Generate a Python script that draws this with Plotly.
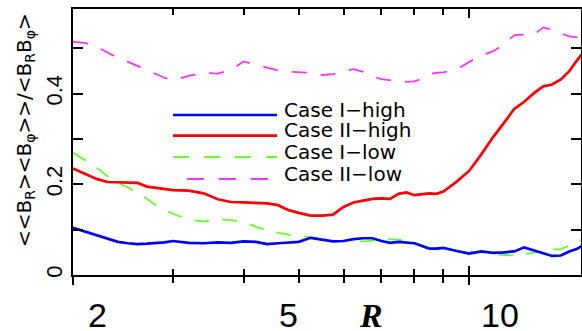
import numpy as np
import plotly.graph_objects as go

# ---- data ----
R = [2.0, 2.1, 2.2, 2.3, 2.4, 2.5, 2.6, 2.7, 2.8, 2.9, 3.0, 3.2, 3.4, 3.6, 3.8,
     4.0, 4.2, 4.4, 4.6, 4.8, 5.0, 5.25, 5.5, 5.75, 6.0, 6.25, 6.5, 6.75, 7.0,
     7.25, 7.5, 7.75, 8.0, 8.25, 8.5, 8.75, 9.0, 9.5, 10.0, 10.5, 11.0, 11.5,
     12.0, 12.5, 13.0, 13.5, 14.0, 14.5, 15.0, 15.5, 15.8]

case1_high = [0.104, 0.096, 0.088, 0.081, 0.073, 0.070, 0.068, 0.069, 0.070, 0.072,
              0.075, 0.071, 0.070, 0.072, 0.071, 0.074, 0.073, 0.068, 0.070, 0.072,
              0.073, 0.082, 0.078, 0.074, 0.075, 0.079, 0.081, 0.081, 0.075, 0.071,
              0.073, 0.072, 0.070, 0.064, 0.058, 0.058, 0.060, 0.053, 0.047, 0.052,
              0.049, 0.050, 0.052, 0.061, 0.054, 0.047, 0.042, 0.043, 0.052, 0.058,
              0.064]

case2_high = [0.235, 0.224, 0.212, 0.205, 0.204, 0.204, 0.203, 0.195, 0.192, 0.190,
              0.187, 0.186, 0.180, 0.167, 0.161, 0.160, 0.159, 0.158, 0.154, 0.143,
              0.137, 0.131, 0.131, 0.133, 0.150, 0.160, 0.164, 0.168, 0.169, 0.168,
              0.179, 0.182, 0.176, 0.178, 0.180, 0.179, 0.184, 0.206, 0.230, 0.266,
              0.303, 0.335, 0.366, 0.382, 0.401, 0.416, 0.420, 0.431, 0.449, 0.474,
              0.487]

case1_low = [0.270, 0.253, 0.237, 0.218, 0.203, 0.193, 0.181, 0.168, 0.154, 0.144,
             0.135, 0.122, 0.118, 0.123, 0.121, 0.116, 0.107, 0.098, 0.093, 0.089,
             0.087, 0.083, 0.079, 0.076, 0.075, 0.074, 0.074, 0.076, 0.077, 0.079,
             0.078, 0.075, 0.071, 0.066, 0.061, 0.058, 0.057, 0.054, 0.052, 0.050,
             0.046, 0.044, 0.043, 0.046, 0.050, 0.053, 0.056, 0.057, 0.064, 0.072,
             0.078]

case2_low = [0.514, 0.512, 0.503, 0.491, 0.479, 0.470, 0.461, 0.451, 0.443, 0.435,
             0.429, 0.439, 0.446, 0.444, 0.452, 0.471, 0.464, 0.457, 0.451, 0.448,
             0.447, 0.446, 0.441, 0.443, 0.449, 0.454, 0.448, 0.438, 0.432, 0.429,
             0.427, 0.426, 0.427, 0.433, 0.443, 0.446, 0.447, 0.453, 0.470, 0.484,
             0.493, 0.508, 0.529, 0.530, 0.530, 0.546, 0.541, 0.533, 0.526, 0.524,
             0.524]

series_names = ["Case I\u2212high", "Case II\u2212high", "Case I\u2212low", "Case II\u2212low"]
series_colors = ["#0000ff", "#ff0000", "#66ff33", "#ff33ff"]

x_tick_labels = ["2", "5", "10"]
x_label_at = [2.21, 4.79, 11.33]     # where the reference prints its labels
x_title = "<b><i>R</i></b>"
x_title_at = 6.71

y_tick_vals = [0, 0.2, 0.4]
y_tick_text = ["0", "0.2", "0.4"]

W, H = 582, 331
ML, MR, MT, MB = 73, 1, 9, 56
PX_PER_DECADE = 567.0
x_lo = np.log10(2.0)
x_hi = x_lo + (W - ML - MR) / PX_PER_DECADE
y_hi = (H - MT - MB) / 453.5

fig = go.Figure()

fig.add_trace(go.Scatter(x=R, y=case2_low, mode="lines", name=series_names[3],
                         line=dict(color=series_colors[3], width=1.8, dash="15px,14px"),
                         xaxis="x", yaxis="y"))
fig.add_trace(go.Scatter(x=R, y=case1_low, mode="lines", name=series_names[2],
                         line=dict(color=series_colors[2], width=1.8, dash="15px,13px"),
                         xaxis="x", yaxis="y"))
fig.add_trace(go.Scatter(x=R, y=case2_high, mode="lines", name=series_names[1],
                         line=dict(color=series_colors[1], width=2.7),
                         xaxis="x", yaxis="y"))
fig.add_trace(go.Scatter(x=R, y=case1_high, mode="lines", name=series_names[0],
                         line=dict(color=series_colors[0], width=2.7),
                         xaxis="x2", yaxis="y"))

axis_common = dict(type="log", range=[x_lo, x_hi], showgrid=False, zeroline=False,
                   showline=True, linecolor="black", linewidth=2,
                   showticklabels=False, tickvals=[2, 10], tickcolor="black",
                   tickwidth=1.5)

fig.update_layout(
    width=W, height=H,
    margin=dict(l=ML, r=MR, t=MT, b=MB, autoexpand=False),
    paper_bgcolor="white", plot_bgcolor="white",
    showlegend=False,
    xaxis=dict(**axis_common, ticks="outside", ticklen=8, mirror=False,
               minor=dict(tickvals=[3, 4, 5, 6, 7, 8, 9], ticks="outside", ticklen=6,
                          tickcolor="black", tickwidth=1.5)),
    xaxis2=dict(**axis_common, overlaying="x", anchor="y", side="bottom",
                ticks="inside", ticklen=9, mirror="allticks",
                minor=dict(tickvals=[3, 4, 5, 6, 7, 8, 9], ticks="inside", ticklen=6,
                           tickcolor="black", tickwidth=1.5)),
    yaxis=dict(range=[0, y_hi], showgrid=False, zeroline=False, showline=True,
               linecolor="black", linewidth=2, mirror="allticks",
               ticks="inside", ticklen=10, tickwidth=1.5, tickcolor="black",
               tickvals=y_tick_vals, ticktext=y_tick_text, tickangle=-90,
               tickfont=dict(family="Liberation Sans", size=22, color="black"),
               minor=dict(tickvals=[0.1, 0.3, 0.5], ticks="inside", ticklen=6,
                          tickcolor="black", tickwidth=1.5)),
)

# x tick labels and axis title (placed as in the reference)
for lab, pos in zip(x_tick_labels, x_label_at):
    fig.add_annotation(x=np.log10(pos), y=-0.152, xref="x", yref="paper",
                       text=lab, showarrow=False, xanchor="center", yanchor="middle",
                       font=dict(family="Liberation Sans", size=34, color="black"))
fig.add_annotation(x=np.log10(x_title_at), y=-0.152, xref="x", yref="paper",
                   text=x_title, showarrow=False, xanchor="center", yanchor="middle",
                   font=dict(family="Liberation Serif", size=34, color="black"))

# y axis title
fig.add_annotation(x=(25 - ML) / (W - ML - MR), y=(275 - 130) / 266, xref="paper", yref="paper",
                   text="&lt;&lt;B<sub>R</sub>&gt;&lt;B<sub>\u03c6</sub>&gt;&gt;/&lt;B<sub>R</sub>B<sub>\u03c6</sub>&gt;",
                   textangle=-90, showarrow=False, xanchor="center", yanchor="middle",
                   font=dict(family="DejaVu Sans", size=20, color="black"))

# legend drawn by hand (long line samples as in the reference)
pw = W - ML - MR
ph = H - MT - MB
leg_rows = [115, 135.7, 157, 179]
leg_x0 = [173, 173, 173, 187]
leg_x1 = [277, 277, 277, 270]
leg_dash = ["solid", "solid", "16px,15px", "17px,15px"]
leg_width = [2.7, 2.7, 2.0, 2.0]
for i in range(4):
    yy = (H - MB - leg_rows[i]) / ph
    fig.add_shape(type="line", xref="paper", yref="paper",
                  x0=(leg_x0[i] - ML) / pw, x1=(leg_x1[i] - ML) / pw, y0=yy, y1=yy,
                  line=dict(color=series_colors[i], width=leg_width[i], dash=leg_dash[i]))
    fig.add_annotation(x=(282 - ML) / pw, y=(H - MB - (leg_rows[i] - 5.5)) / ph,
                       xref="paper", yref="paper", text=series_names[i],
                       showarrow=False, xanchor="left", yanchor="middle",
                       font=dict(family="DejaVu Sans", size=20, color="black"))

fig.write_html("out.html")
